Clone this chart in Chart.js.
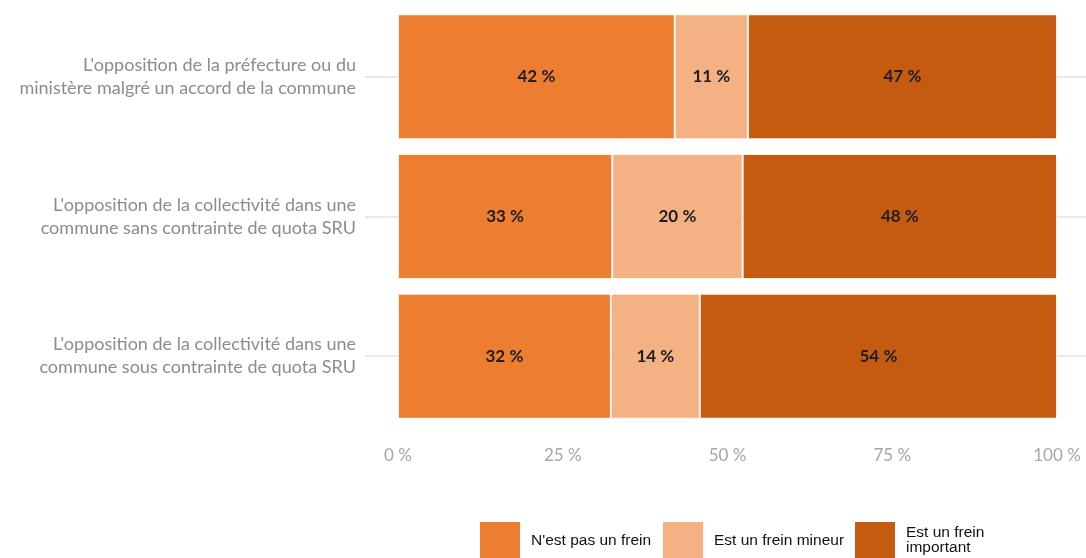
<!DOCTYPE html>
<html>
<head>
<meta charset="utf-8">
<script src="https://cdn.jsdelivr.net/npm/chart.js@4"></script>
<style>
  html, body { margin: 0; padding: 0; background: #fff; }
  #wrap { width: 1086px; height: 558px; }
</style>
</head>
<body>
<div id="wrap"><canvas id="chart" width="1086" height="558"></canvas></div>
<script>
// categories (axe vertical)
let categories = [
    ["L'opposition de la préfecture ou du", "ministère malgré un accord de la commune"],
    ["L'opposition de la collectivité dans une", "commune sans contrainte de quota SRU"],
    ["L'opposition de la collectivité dans une", "commune sous contrainte de quota SRU"]
]
// parts (en %)
let pasUnFrein = [42.0, 32.5, 32.3]
let freinMineur = [11.1, 19.8, 13.5]
let freinImportant = [46.9, 47.7, 54.2]
let seriesNames = ["N'est pas un frein", "Est un frein mineur", ["Est un frein", "important"]]
let xTicks = [0, 25, 50, 75, 100]

const couleurs = ['#ED7D31', '#F4B183', '#C55A11']

// lignes de grille horizontales qui debordent a droite
const gridPlugin = {
    id: 'gridPlugin',
    beforeDatasetsDraw(chart) {
        const ctx = chart.ctx, y = chart.scales.y
        ctx.save()
        ctx.strokeStyle = '#e9e9e9'
        ctx.lineWidth = 2
        categories.forEach((c, i) => {
            const py = Math.round(y.getPixelForValue(i))
            ctx.beginPath()
            ctx.moveTo(365, py)
            ctx.lineTo(chart.width, py)
            ctx.stroke()
        })
        ctx.restore()
    }
}

// etiquettes "42 %" au centre des segments
const labelPlugin = {
    id: 'labelPlugin',
    afterDatasetsDraw(chart) {
        const ctx = chart.ctx
        ctx.save()
        ctx.font = 'bold 17px Lato'
        ctx.fillStyle = '#1e1e1e'
        ctx.textAlign = 'center'
        ctx.textBaseline = 'middle'
        chart.data.datasets.forEach((ds, di) => {
            chart.getDatasetMeta(di).data.forEach((bar, i) => {
                const cx = (bar.x + bar.base) / 2
                ctx.fillText(Math.round(ds.data[i]) + '\u202F%', cx, bar.y)
            })
        })
        ctx.restore()
    }
}

// legende en bas (le 3e libelle est sur deux lignes)
const legendPlugin = {
    id: 'legendPlugin',
    afterDraw(chart) {
        const ctx = chart.ctx
        const boxX = [480, 663, 855]
        ctx.save()
        ctx.font = '15.5px "Liberation Sans"'
        ctx.textBaseline = 'middle'
        chart.data.datasets.forEach((ds, i) => {
            ctx.fillStyle = ds.backgroundColor
            ctx.fillRect(boxX[i], 522, 40, 40)
            ctx.fillStyle = '#111'
            const txt = Array.isArray(ds.label) ? ds.label : [ds.label]
            if (txt.length == 1) ctx.fillText(txt[0], boxX[i] + 51, 541)
            else txt.forEach((t, k) => ctx.fillText(t, boxX[i] + 51, 533 + k * 15))
        })
        ctx.restore()
    }
}

const data = {
    labels: categories,
    datasets: [pasUnFrein, freinMineur, freinImportant].map((vals, i) => ({
        label: seriesNames[i],
        data: vals,
        backgroundColor: couleurs[i],
        borderColor: 'rgba(255,235,220,0.6)',
        borderWidth: 1,
        borderSkipped: false,
        categoryPercentage: 1,
        barPercentage: 0.895
    }))
}

const config = {
    type: 'bar',
    data: data,
    options: {
        indexAxis: 'y',
        responsive: false,
        animation: false,
        layout: { padding: { top: 7, right: 29, bottom: 87, left: 0 } },
        plugins: { legend: { display: false }, tooltip: { enabled: false } },
        scales: {
            x: {
                stacked: true, min: 0, max: 100,
                afterBuildTicks: (s) => { s.ticks = xTicks.map(v => ({ value: v })) },
                afterFit: (s) => { s.height = 45; s.paddingLeft = 0; s.paddingRight = 0 },
                grid: { display: false },
                border: { display: false },
                ticks: { color: '#a6a6a6', font: { family: 'Lato', size: 17 }, padding: 11, callback: v => v + ' %' }
            },
            y: {
                stacked: true,
                afterFit: (s) => { s.width = 398; s.paddingTop = 0; s.paddingBottom = 0 },
                grid: { display: false },
                border: { display: false },
                ticks: { color: '#8c8c8c', font: { family: 'Lato', size: 18, lineHeight: 1.28 }, padding: 34 }
            }
        }
    },
    plugins: [gridPlugin, labelPlugin, legendPlugin]
}

let myChart = new Chart(document.getElementById('chart'), config)
</script>
</body>
</html>
